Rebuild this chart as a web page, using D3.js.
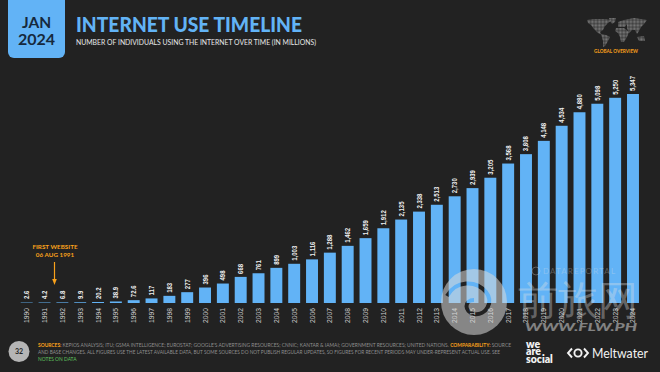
<!DOCTYPE html>
<html>
<head>
<meta charset="utf-8">
<script src="https://cdn.jsdelivr.net/npm/d3@7"></script>
<style>
  html, body { margin: 0; padding: 0; background: #222222; overflow: hidden; }
  text { font-family: Lato, "Open Sans", sans-serif; }
  .num { font-family: "Liberation Sans", sans-serif; }
</style>
</head>
<body>
<div class="canvas"></div>
<script>
// Data
const years = ['1990','1991','1992','1993','1994','1995','1996','1997','1998','1999','2000','2001','2002','2003','2004','2005','2006','2007','2008','2009','2010','2011','2012','2013','2014','2015','2016','2017','2018','2019','2020','2021','2022','2023','2024'];
const users = [2.6,4.2,6.8,9.9,20.2,38.9,72.6,117,183,277,396,498,668,761,899,1003,1116,1288,1462,1659,1912,2135,2338,2513,2730,2939,3205,3568,3808,4148,4534,4880,5098,5250,5347];
const userLabels = ['2.6','4.2','6.8','9.9','20.2','38.9','72.6','117','183','277','396','498','668','761','899','1,003','1,116','1,288','1,462','1,659','1,912','2,135','2,338','2,513','2,730','2,939','3,205','3,568','3,808','4,148','4,534','4,880','5,098','5,250','5,347'];
const footerLines = [
  [['SOURCES: ', '#f9a11b', 700], ['KEPIOS ANALYSIS; ITU; GSMA INTELLIGENCE; EUROSTAT; GOOGLE\'S ADVERTISING RESOURCES; CNNIC; KANTAR & IAMAI; GOVERNMENT RESOURCES; UNITED NATIONS. ', '#8f8f8f', 400], ['COMPARABILITY: ', '#f9a11b', 700], ['SOURCE', '#8f8f8f', 400]],
  [['AND BASE CHANGES. ALL FIGURES USE THE LATEST AVAILABLE DATA, BUT SOME SOURCES DO NOT PUBLISH REGULAR UPDATES, SO FIGURES FOR RECENT PERIODS MAY UNDER-REPRESENT ACTUAL USE. SEE', '#8f8f8f', 400]],
  [['NOTES ON DATA', '#5fc25f', 400]]
];

const blue = '#62b3f6';

const svg = d3.select('.canvas')
    .append('svg')
    .attr('width', 660)
    .attr('height', 372)
    .style('display', 'block');

svg.append('rect').attr('width', 660).attr('height', 372).attr('fill', '#222222');

// Date tab
svg.append('path')
    .attr('d', 'M8,0H65V52a6,6 0 0 1 -6,6H14a6,6 0 0 1 -6,-6Z')
    .attr('fill', blue);
svg.append('text').attr('x', 36.5).attr('y', 28).attr('text-anchor', 'middle')
    .attr('font-size', 15.5).attr('font-weight', 700).attr('fill', '#16293d').text('JAN');
svg.append('text').attr('x', 36.5).attr('y', 45).attr('text-anchor', 'middle')
    .attr('font-size', 16).attr('font-weight', 700).attr('fill', '#16293d').text('2024');

// Titles
svg.append('text').attr('x', 76).attr('y', 32)
    .attr('font-size', 21).attr('font-weight', 900).attr('fill', blue)
    .attr('textLength', 226).attr('lengthAdjust', 'spacingAndGlyphs')
    .text('INTERNET USE TIMELINE');
svg.append('text').attr('x', 76).attr('y', 45)
    .attr('font-size', 7.4).attr('fill', '#e8e8e8')
    .attr('textLength', 240).attr('lengthAdjust', 'spacingAndGlyphs')
    .text('NUMBER OF INDIVIDUALS USING THE INTERNET OVER TIME (IN MILLIONS)');

// Rough dotted world map, top right
const dots = svg.append('defs').append('pattern')
    .attr('id', 'dots').attr('width', 1.4).attr('height', 1.4)
    .attr('patternUnits', 'userSpaceOnUse');
dots.append('rect').attr('width', 1.1).attr('height', 1.1).attr('fill', '#7a7a7a');
const land = [
  'M587,20 L594,19 L604,19 L612,20 L608,23 L605,26 L603,30 L600,32 L602,35 L598,33 L594,29 L591,25 L588,23Z',
  'M601,34 L606,35 L610,37 L608,41 L605,46 L603,47 L603,41Z',
  'M609,18 L616,18 L615,22 L612,24 L610,21Z',
  'M618,22 L624,20 L627,24 L625,27 L618,27Z',
  'M616,28 L624,28 L629,32 L627,37 L624,42 L621,42 L620,37 L618,33 L615,31Z',
  'M624,20 L634,18 L647,20 L644,24 L641,27 L639,31 L637,34 L635,30 L632,30 L629,33 L627,28 L627,24Z',
  'M637,37 L644,36 L645,41 L639,41Z'
];
svg.append('g').selectAll('path').data(land).join('path')
    .attr('d', d => d).attr('fill', 'url(#dots)');
svg.append('text').attr('x', 616).attr('y', 53).attr('text-anchor', 'middle')
    .attr('font-size', 4.7).attr('font-weight', 700).attr('fill', '#f9a11b').text('GLOBAL OVERVIEW');

// Scales
const x = d3.scaleBand()
    .domain(years)
    .range([17.8, 641.9])
    .paddingInner(0.33)
    .paddingOuter(0.165);
const y = d3.scaleLinear()
    .domain([0, 5347])
    .range([303, 94]);

// Bars, with a thin dim stub so the early years stay visible
svg.append('g').selectAll('rect')
    .data(users)
    .join('rect')
    .attr('x', (d, i) => x(years[i]))
    .attr('width', x.bandwidth())
    .attr('y', d => Math.min(y(d), 302))
    .attr('height', d => Math.max(303 - y(d), 1))
    .attr('fill', blue)
    .attr('fill-opacity', d => Math.min(1, 0.35 + (303 - y(d))));

// Value labels, squeezed along their length because the original face is condensed
svg.append('g').selectAll('text')
    .data(users)
    .join('text')
    .attr('class', 'num')
    .attr('transform', (d, i) => `translate(${x(years[i]) + x.bandwidth() / 2 + 2.5},${Math.min(y(d), 302) - 3}) rotate(-90) scale(0.86,1)`)
    .attr('font-size', 7)
    .attr('font-weight', 700)
    .attr('fill', '#f2f2f2')
    .text((d, i) => userLabels[i]);

// Year axis
const xAxisGroup = svg.append('g')
    .attr('transform', 'translate(0,303)')
    .call(d3.axisBottom(x).tickSize(0).tickPadding(0));
xAxisGroup.select('.domain').remove();
xAxisGroup.selectAll('text')
    .attr('class', 'num')
    .attr('transform', 'translate(2.5,12.5) rotate(-90) scale(0.96,1)')
    .attr('x', 0).attr('y', 0).attr('dy', 0)
    .attr('text-anchor', 'middle')
    .attr('font-size', 7)
    .attr('fill', '#cfcfcf');

// First website note
svg.append('text').attr('x', 55).attr('y', 249).attr('text-anchor', 'middle')
    .attr('font-size', 6.3).attr('font-weight', 700).attr('fill', '#f9a11b').text('FIRST WEBSITE');
svg.append('text').attr('x', 55).attr('y', 257).attr('text-anchor', 'middle')
    .attr('font-size', 6.3).attr('font-weight', 700).attr('fill', '#f9a11b').text('06 AUG 1991');
svg.append('line').attr('x1', 54.5).attr('x2', 54.5).attr('y1', 262).attr('y2', 280)
    .attr('stroke', '#f9a11b').attr('stroke-width', 1.2);
svg.append('path').attr('d', 'M52.2,279 L56.8,279 L54.5,285Z').attr('fill', '#f9a11b');

// Page number
svg.append('circle').attr('cx', 19).attr('cy', 351.5).attr('r', 10.5).attr('fill', '#b5b5b5');
svg.append('text').attr('x', 19).attr('y', 354).attr('text-anchor', 'middle')
    .attr('font-size', 7).attr('font-weight', 700).attr('fill', '#222').text('32');

// Footer
const footer = svg.append('g');
footerLines.forEach((line, i) => {
  const t = footer.append('text').attr('x', 38).attr('y', 347 + i * 6.8).attr('font-size', 4.9);
  if (i === 0) t.attr('textLength', 473).attr('lengthAdjust', 'spacingAndGlyphs');
  if (i === 1) t.attr('textLength', 462).attr('lengthAdjust', 'spacingAndGlyphs');
  line.forEach(s => t.append('tspan').attr('fill', s[1]).attr('font-weight', s[2]).text(s[0]));
});

// Logos
['we', 'are', 'social'].forEach((w, i) => {
  svg.append('text').attr('x', 526).attr('y', 347.5 + i * 7.5)
      .attr('font-size', 10.5).attr('font-weight', 800)
      .attr('font-family', 'Inter, Lato, sans-serif')
      .attr('fill', '#f2f2f2').text(w);
});
const mark = svg.append('g').attr('fill', 'none').attr('stroke', '#f2f2f2').attr('stroke-width', 1.9);
mark.append('circle').attr('cx', 578).attr('cy', 353).attr('r', 3.6);
mark.append('path').attr('d', 'M572,348.5 L568,353 L572,357.5');
mark.append('path').attr('d', 'M584,348.5 L588,353 L584,357.5');
svg.append('text').attr('x', 592).attr('y', 357.5)
    .attr('font-size', 12.5).attr('font-family', 'Inter, Lato, sans-serif').attr('fill', '#f2f2f2')
    .attr('textLength', 56).attr('lengthAdjust', 'spacingAndGlyphs').text('Meltwater');

// Watermark sitting on top of the slide
const wmMask = svg.select('defs').append('mask').attr('id', 'swirl');
wmMask.append('rect').attr('width', 660).attr('height', 372).attr('fill', 'white');
wmMask.append('path')
    .attr('d', 'M447,296 C456,280 476,280 486,292 C494,302 486,316 474,314 C464,312 464,300 474,300')
    .attr('fill', 'none').attr('stroke', 'black').attr('stroke-width', 4);
svg.append('circle').attr('cx', 474).attr('cy', 302).attr('r', 33)
    .attr('fill', '#d8d8d8').attr('fill-opacity', 0.55).attr('mask', 'url(#swirl)');
svg.append('text').attr('x', 518).attr('y', 314)
    .attr('font-size', 40).attr('font-family', '"Noto Sans CJK SC", sans-serif')
    .attr('fill', '#e4e4e4').attr('fill-opacity', 0.36).text('前旅网');
svg.append('text').attr('x', 525).attr('y', 331)
    .attr('font-size', 11).attr('font-weight', 900).attr('font-style', 'italic')
    .attr('fill', '#e4e4e4').attr('fill-opacity', 0.5)
    .attr('textLength', 112).attr('lengthAdjust', 'spacingAndGlyphs').text('WWW.FLW.PH');
svg.append('text').attr('x', 543).attr('y', 274)
    .attr('font-size', 8).attr('fill', '#e4e4e4').attr('fill-opacity', 0.3)
    .attr('textLength', 72).text('DATAREPORTAL');
svg.append('circle').attr('cx', 536).attr('cy', 271).attr('r', 4)
    .attr('fill', 'none').attr('stroke', '#e4e4e4').attr('stroke-opacity', 0.3);
</script>
</body>
</html>
